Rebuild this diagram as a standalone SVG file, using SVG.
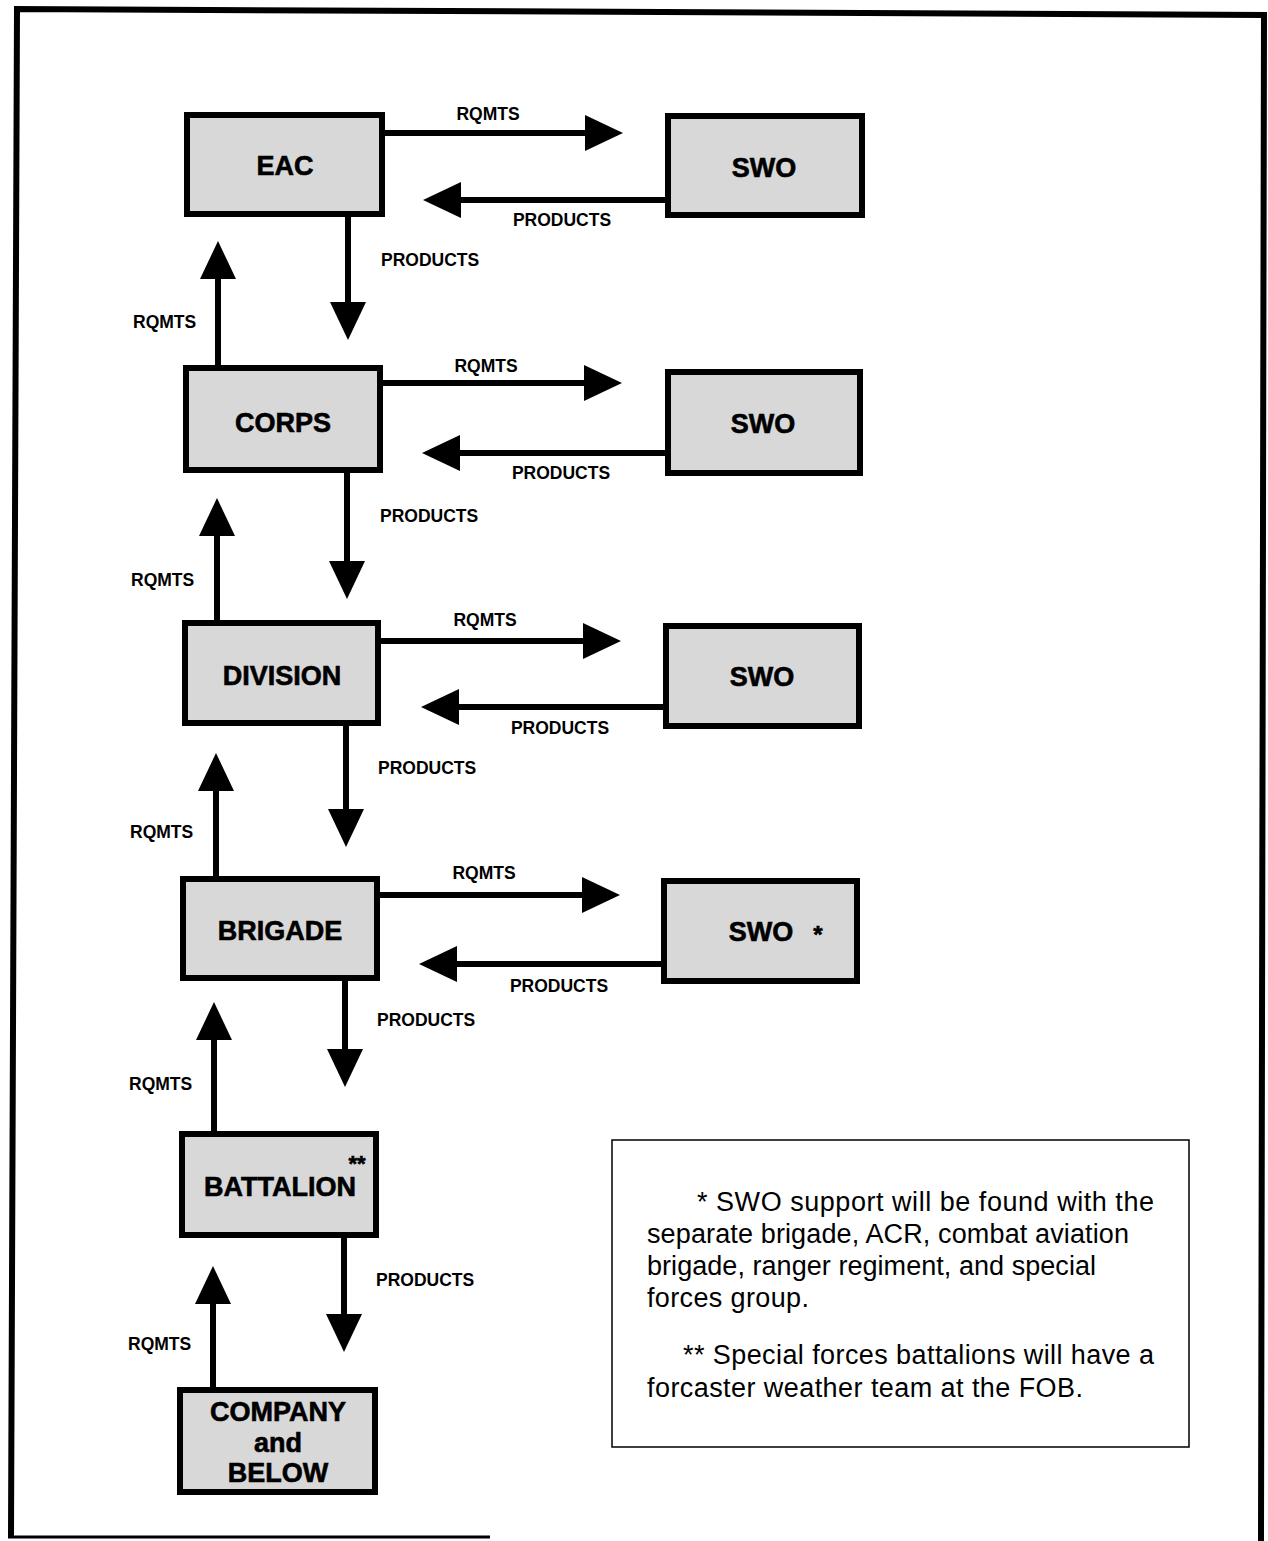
<svg xmlns="http://www.w3.org/2000/svg" width="1268" height="1541" viewBox="0 0 1268 1541">
<defs>
<style>
.box{fill:#d8d8d8;stroke:#000;stroke-width:6}
.bl{font-family:"Liberation Sans",Arial,sans-serif;font-weight:bold;font-size:27px;fill:#000;text-anchor:middle;stroke:#000;stroke-width:0.6}
.lb{font-family:"Liberation Sans",Arial,sans-serif;font-weight:bold;font-size:17.5px;fill:#000}
.lc{text-anchor:middle}
.fn{font-family:"Liberation Sans",Arial,sans-serif;font-size:27px;fill:#000}
.cn{fill:none;stroke:#000;stroke-width:6;marker-end:url(#ah)}
.frame{fill:none;stroke:#000;stroke-width:6}
</style>
<marker id="ah" markerUnits="userSpaceOnUse" markerWidth="38" markerHeight="36" refX="0" refY="18" orient="auto" viewBox="0 0 38 36">
<path d="M0,0 L38,18 L0,36 z" fill="#000"/>
</marker>
</defs>
<rect width="1268" height="1541" fill="#fff"/>
<g id="frame">
<path class="frame" d="M11,1537 L17,9 L1264,15 L1261,1541"/>
<path d="M8,1537 L490,1537" stroke="#000" stroke-width="3"/>
</g>
<g id="connectors">
<path class="cn" d="M385,133 H585"/>
<path class="cn" d="M665,200 H461"/>
<path class="cn" d="M348,217 V302"/>
<path class="cn" d="M218,365 V279"/>
<path class="cn" d="M383,383 H584"/>
<path class="cn" d="M665,453 H460"/>
<path class="cn" d="M347,473 V561"/>
<path class="cn" d="M217,620 V536"/>
<path class="cn" d="M381,641 H583"/>
<path class="cn" d="M663,707 H459"/>
<path class="cn" d="M346,726 V809"/>
<path class="cn" d="M216,876 V791"/>
<path class="cn" d="M380,895 H582"/>
<path class="cn" d="M661,964 H457"/>
<path class="cn" d="M345,981 V1049"/>
<path class="cn" d="M214,1131 V1040"/>
<path class="cn" d="M344,1238 V1314"/>
<path class="cn" d="M213,1387 V1304"/>
<text class="lb lc" x="488" y="120">RQMTS</text>
<text class="lb lc" x="562" y="226">PRODUCTS</text>
<text class="lb" x="381" y="266">PRODUCTS</text>
<text class="lb" x="133" y="328">RQMTS</text>
<text class="lb lc" x="486" y="372">RQMTS</text>
<text class="lb lc" x="561" y="479">PRODUCTS</text>
<text class="lb" x="380" y="522">PRODUCTS</text>
<text class="lb" x="131" y="586">RQMTS</text>
<text class="lb lc" x="485" y="626">RQMTS</text>
<text class="lb lc" x="560" y="734">PRODUCTS</text>
<text class="lb" x="378" y="774">PRODUCTS</text>
<text class="lb" x="130" y="838">RQMTS</text>
<text class="lb lc" x="484" y="879">RQMTS</text>
<text class="lb lc" x="559" y="992">PRODUCTS</text>
<text class="lb" x="377" y="1026">PRODUCTS</text>
<text class="lb" x="129" y="1090">RQMTS</text>
<text class="lb" x="376" y="1286">PRODUCTS</text>
<text class="lb" x="128" y="1350">RQMTS</text>
</g>
<g id="eac"><rect class="box" x="187" y="115" width="195" height="99"/><text class="bl" x="285" y="175">EAC</text></g>
<g id="swo1"><rect class="box" x="668" y="116" width="194" height="99"/><text class="bl" x="764" y="177">SWO</text></g>
<g id="corps"><rect class="box" x="186" y="368" width="194" height="102"/><text class="bl" x="283" y="432">CORPS</text></g>
<g id="swo2"><rect class="box" x="668" y="372" width="192" height="101"/><text class="bl" x="763" y="433">SWO</text></g>
<g id="division"><rect class="box" x="185" y="623" width="193" height="100"/><text class="bl" x="282" y="685">DIVISION</text></g>
<g id="swo3"><rect class="box" x="666" y="626" width="193" height="100"/><text class="bl" x="762" y="686">SWO</text></g>
<g id="brigade"><rect class="box" x="183" y="879" width="194" height="99"/><text class="bl" x="280" y="940">BRIGADE</text></g>
<g id="swo4"><rect class="box" x="664" y="881" width="193" height="100"/><text class="bl" x="761" y="941">SWO</text><text class="bl" x="818" y="943" style="font-size:24px">*</text></g>
<g id="battalion"><rect class="box" x="182" y="1134" width="194" height="101"/><text class="bl" x="280" y="1196">BATTALION</text><text class="bl" x="357" y="1171" style="font-size:22px">**</text></g>
<g id="company"><rect class="box" x="180" y="1390" width="195" height="102"/><text class="bl" x="278" y="1421">COMPANY</text><text class="bl" x="278" y="1452">and</text><text class="bl" x="278" y="1482">BELOW</text></g>
<g id="notes">
<rect x="612" y="1140" width="577" height="307" fill="none" stroke="#000" stroke-width="1.5"/>
<text class="fn" x="697" y="1211" textLength="457" lengthAdjust="spacing">* SWO support will be found with the</text>
<text class="fn" x="647" y="1243" textLength="482" lengthAdjust="spacing">separate brigade, ACR, combat aviation</text>
<text class="fn" x="647" y="1275" textLength="449" lengthAdjust="spacing">brigade, ranger regiment, and special</text>
<text class="fn" x="647" y="1307" textLength="162" lengthAdjust="spacing">forces group.</text>
<text class="fn" x="683" y="1364" textLength="471" lengthAdjust="spacing">** Special forces battalions will have a</text>
<text class="fn" x="647" y="1397" textLength="436" lengthAdjust="spacing">forcaster weather team at the FOB.</text>
</g>
</svg>
